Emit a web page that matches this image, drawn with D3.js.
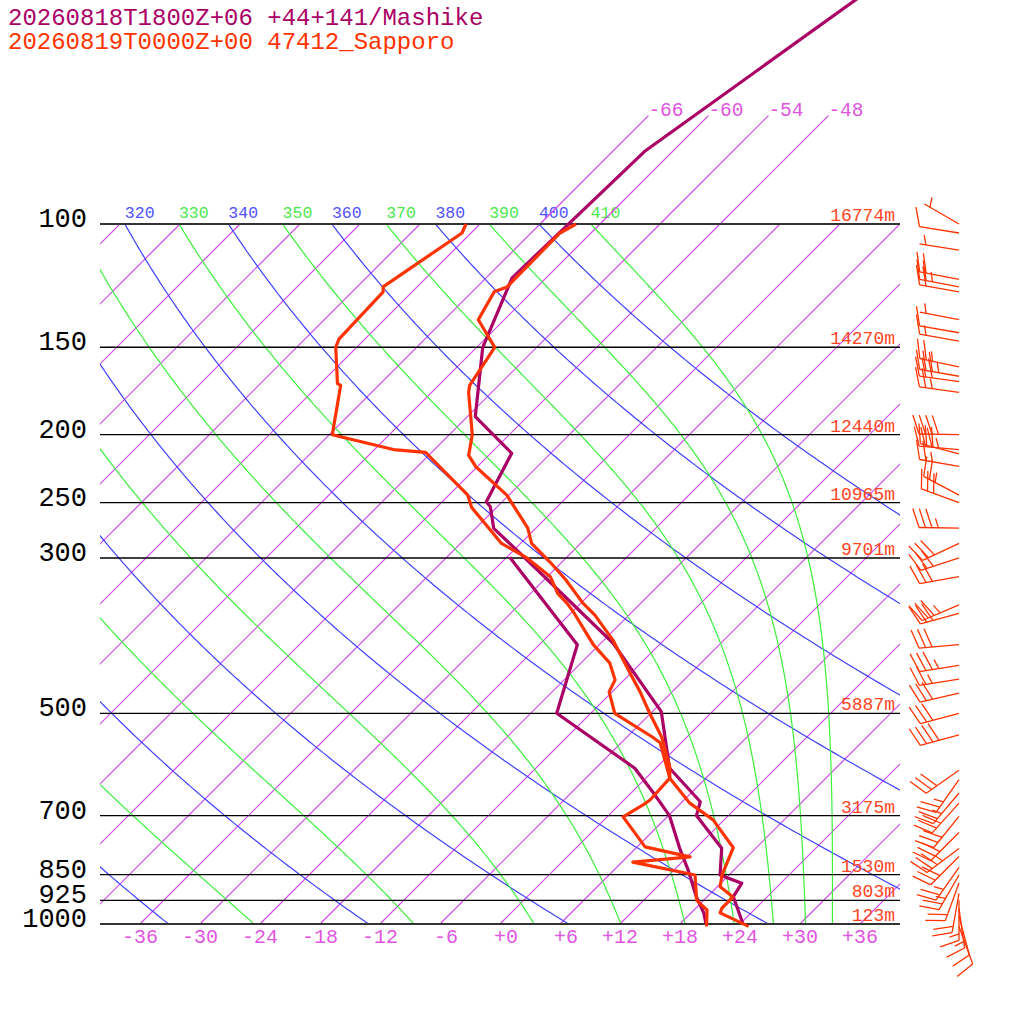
<!DOCTYPE html>
<html>
<head>
<meta charset="utf-8">
<script src="https://cdn.jsdelivr.net/npm/d3@7"></script>
<style>
body { margin: 0; background: #fff; }
text { font-family: "Liberation Mono", "DejaVu Sans Mono", monospace; }
</style>
</head>
<body>
<div id="drawArea"></div>
<script>
// ---- data ----
var titleLines = ["20260818T1800Z+06 +44+141/Mashike", "20260819T0000Z+00 47412_Sapporo"];

var pressureLevels = [100, 150, 200, 250, 300, 500, 700, 850, 925, 1000];
var heightLabels = ["16774m", "14270m", "12440m", "10965m", "9701m", "5887m", "3175m", "1530m", "803m", "123m"];
var tickTemps = [-36, -30, -24, -18, -12, -6, 0, 6, 12, 18, 24, 30, 36];
var topIsotherms = [-66, -60, -54, -48];
var dryAdiabats = [240, 260, 280, 300, 320, 340, 360, 380, 400];
var moistAdiabats = [250, 270, 290, 310, 330, 350, 370, 390, 410];

// Mashike (model)
var mashikeP  = [43.4, 78.8, 119.4, 150, 188.5, 212.6, 249.3, 253.4, 272.1, 300, 396.8, 497.4, 598.6, 668.8, 700, 779.6, 851, 874.7, 914, 1000];
var mashikeT  = [-55.7, -62.8, -63.4, -59.4, -53.2, -45.9, -43.6, -42.7, -40.2, -34.1, -16.8, -5.1, 1.35, 7.8, 8.8, 14.6, 17.1, 20.1, 20.6, 24.3];
var mashikeTdP = [299.3, 399, 500, 599, 650.5, 700, 779.6, 837, 914, 965, 1000];
var mashikeTd  = [-35.7, -20.2, -15.4, -2.1, 2.3, 6.1, 10.4, 13.4, 16.9, 19.3, 20.6];

// Sapporo (sonde)
var sapporoP = [100, 103, 123, 125, 137, 150, 170, 174, 200, 214, 222, 244, 272, 286, 304, 322, 348, 362, 393, 438, 466, 500, 541, 597, 619, 672, 710, 778, 851, 885, 915, 949, 964, 1008];
var sapporoT = [-62.4, -63.1, -63.0, -63.8, -62.6, -58.2, -56.9, -56.3, -51.7, -50.0, -48.2, -42.2, -36.8, -34.9, -31.2, -27.9, -23.8, -21.4, -17.1, -12.1, -9.2, -6.1, -2.5, 1.3, 2.4, 6.9, 10.9, 15.7, 17.3, 18.3, 20.6, 20.6, 20.9, 25.1];
var sapporoTdP = [100, 103, 123, 125, 146, 150, 169, 170, 200, 210, 212, 244, 254, 286, 300, 319, 337, 348, 358, 399, 424, 448, 466, 500, 541, 551, 619, 665, 676, 703, 776, 802, 816, 851, 925, 955, 1008];
var sapporoTd  = [-73.4, -72.9, -75.4, -74.9, -74.6, -74.1, -70.3, -69.8, -65.7, -58.1, -54.6, -46.1, -44.5, -37.9, -33.9, -29.7, -27.3, -25.4, -23.9, -18.6, -15.1, -12.9, -12.3, -9.6, -3.4, -2.1, 2.4, 2.6, 2.4, 1.6, 6.8, 12.3, 7.1, 14.6, 17.3, 19.3, 20.9];

var windP   = [100, 103, 109, 120, 123, 125, 137, 143, 147, 160, 165, 168, 174, 200, 210, 213, 222, 244, 250, 272, 286, 300, 319, 350, 360, 399, 427, 447, 468, 500, 537, 603, 622, 650, 672, 702, 740, 780, 801, 830, 851, 874, 904, 925, 950, 975, 1008];
var windDir = [300, 279, 279, 281, 281, 280, 281, 280, 280, 282, 280, 278, 278, 271, 275, 285, 280, 298, 290, 271, 245, 252, 260, 247, 255, 265, 261, 261, 257, 255, 255, 235, 215, 220, 222, 219, 225, 233, 225, 215, 210, 200, 190, 180, 172, 165, 160];
var windSpd = [5, 10, 5, 20, 25, 20, 5, 10, 15, 25, 35, 30, 25, 40, 35, 30, 25, 25, 30, 35, 30, 30, 30, 35, 30, 30, 35, 25, 30, 30, 40, 30, 25, 25, 30, 30, 30, 35, 30, 25, 25, 20, 20, 15, 15, 10, 10];

// ---- style ----
var mashikeColor = '#aa0066';
var sapporoColor = '#ff3300';
var isoStroke = '#d246ea';
var isoLabel = '#e055e0';
var dryColor = '#4040ff';
var moistColor = '#3cf03c';

var left = 100, right = 900;
var yScale = d3.scaleLog().domain([1000, 100]).range([924, 224]);
var tScale = d3.scaleLinear().domain([-40, 40]).range([left, right]);

function skewX(t, p) {
	return tScale(t) + (yScale(1000) - yScale(p));
}

function thetaESat(tk, p) {
	var es = 6.112 * Math.exp(17.67 * (tk - 273.15) / (tk - 29.65));
	if (es > p * 0.8) return 1e9;
	var r = 622 * es / (p - es);
	var th = tk * Math.pow(1000 / p, 0.2854 * (1 - 0.00028 * r));
	return th * Math.exp((3.376 / tk - 0.00254) * r * (1 + 0.00081 * r));
}

function moistT(thetaE, p) {
	var lo = 150, hi = 340;
	for (var i = 0; i < 50; i++) {
		var mid = (lo + hi) / 2;
		if (thetaESat(mid, p) > thetaE) hi = mid; else lo = mid;
	}
	return (lo + hi) / 2 - 273.15;
}

var svg = d3.select('#drawArea').append('svg')
	.attr('width', 1024)
	.attr('height', 1024);

var defs = svg.append('defs');
defs.append('clipPath').attr('id', 'plotClip')
	.append('rect')
		.attr('x', left).attr('y', yScale(100))
		.attr('width', right - left).attr('height', yScale(1000) - yScale(100));
defs.append('clipPath').attr('id', 'labelClip')
	.append('rect')
		.attr('x', left).attr('y', 0)
		.attr('width', right - left).attr('height', yScale(100));

var grid = svg.append('g').attr('clip-path', 'url(#plotClip)');

var samples = d3.range(0, 181).map(function(i) { return 1000 * Math.pow(0.1, i / 180); });
var line = d3.line().x(function(d) { return d[0]; }).y(function(d) { return d[1]; });

// isotherms
grid.selectAll('line.iso')
	.data(d3.range(-108, 37, 6))
	.enter()
	.append('line')
		.classed('iso', true)
		.attr('x1', function(t) { return skewX(t, 1000); })
		.attr('y1', yScale(1000))
		.attr('x2', function(t) { return skewX(t, 100); })
		.attr('y2', yScale(100))
		.style('stroke', isoStroke)
		.style('stroke-width', 1.2);

// dry adiabats
grid.selectAll('path.dry')
	.data(dryAdiabats)
	.enter()
	.append('path')
		.classed('dry', true)
		.attr('d', function(th) {
			return line(samples.map(function(p) {
				return [skewX(th * Math.pow(p / 1000, 0.286) - 273.15, p), yScale(p)];
			}));
		})
		.style('fill', 'none')
		.style('stroke', dryColor)
		.style('stroke-width', 1.2);

// moist adiabats
grid.selectAll('path.moist')
	.data(moistAdiabats)
	.enter()
	.append('path')
		.classed('moist', true)
		.attr('d', function(te) {
			return line(samples.map(function(p) { return [skewX(moistT(te, p), p), yScale(p)]; }));
		})
		.style('fill', 'none')
		.style('stroke', moistColor)
		.style('stroke-width', 1.2);

// adiabat labels just above 100 hPa
var thetaLabels = svg.append('g').attr('clip-path', 'url(#labelClip)');
var thetaLabelData = dryAdiabats.map(function(th) {
	return { v: th, x: skewX(th * Math.pow(0.1, 0.286) - 273.15, 100), c: '#5252ff' };
}).concat(moistAdiabats.map(function(te) {
	return { v: te, x: skewX(moistT(te, 100), 100), c: '#4ce84c' };
})).filter(function(d) { return d.x >= left - 2 && d.x < right; });
thetaLabels.selectAll('text')
	.data(thetaLabelData)
	.enter()
	.append('text')
		.attr('x', function(d) { return d.x; })
		.attr('y', yScale(100) - 6)
		.attr('font-size', 16.5)
		.attr('fill', function(d) { return d.c; })
		.text(function(d) { return d.v; });

// isotherms above 100 hPa with labels
topIsotherms.forEach(function(t) {
	svg.append('line')
		.attr('x1', skewX(t, 100)).attr('y1', yScale(100))
		.attr('x2', skewX(t, 70)).attr('y2', yScale(70))
		.style('stroke', isoStroke)
		.style('stroke-width', 1.2);
	svg.append('text')
		.attr('x', skewX(t, 70))
		.attr('y', yScale(70))
		.attr('font-size', 19.5)
		.attr('fill', isoLabel)
		.text(t);
});

// pressure lines
svg.selectAll('line.plev')
	.data(pressureLevels)
	.enter()
	.append('line')
		.classed('plev', true)
		.attr('x1', left).attr('x2', right)
		.attr('y1', function(p) { return yScale(p); })
		.attr('y2', function(p) { return yScale(p); })
		.style('stroke', function(p) { return (p == 100 || p == 1000) ? '#333' : '#000'; })
		.style('stroke-width', function(p) { return (p == 100 || p == 1000) ? 2 : 1.3; });

svg.selectAll('text.plab')
	.data(pressureLevels)
	.enter()
	.append('text')
		.classed('plab', true)
		.attr('x', 87)
		.attr('y', function(p) { return yScale(p) + 3; })
		.attr('text-anchor', 'end')
		.attr('font-size', 27)
		.attr('fill', '#000')
		.text(function(p) { return p; });

svg.selectAll('text.hlab')
	.data(heightLabels)
	.enter()
	.append('text')
		.classed('hlab', true)
		.attr('x', 895)
		.attr('y', function(d, i) { return yScale(pressureLevels[i]) - 3; })
		.attr('text-anchor', 'end')
		.attr('font-size', 18)
		.attr('fill', '#ff4422')
		.text(function(d) { return d; });

// bottom temperature ticks
svg.selectAll('text.tlab')
	.data(tickTemps)
	.enter()
	.append('text')
		.classed('tlab', true)
		.attr('x', function(t) { return skewX(t, 1000) + 18; })
		.attr('y', 943)
		.attr('text-anchor', 'end')
		.attr('font-size', 20)
		.attr('fill', isoLabel)
		.text(function(t) { return (t < 0 ? '' : '+') + t; });

// soundings
function profile(ps, ts) {
	return line(ps.map(function(p, i) { return [skewX(ts[i], p), yScale(p)]; }));
}
var traces = [
	[mashikeTdP, mashikeTd, mashikeColor],
	[mashikeP, mashikeT, mashikeColor],
	[sapporoTdP, sapporoTd, sapporoColor],
	[sapporoP, sapporoT, sapporoColor]
];
traces.forEach(function(tr) {
	svg.append('path')
		.attr('d', profile(tr[0], tr[1]))
		.style('fill', 'none')
		.style('stroke', tr[2])
		.style('stroke-width', 3.2)
		.style('stroke-linejoin', 'round');
});

// wind barbs (knots)
var barbX = 959, staffLen = 40, featherLen = 20, spacing = 6.5, featherAngle = 71 * Math.PI / 180;
var barbs = svg.append('g')
	.style('stroke', sapporoColor)
	.style('stroke-width', 1.3)
	.style('fill', sapporoColor);
windP.forEach(function(p, i) {
	var a = windDir[i] * Math.PI / 180;
	var ux = Math.sin(a), uy = -Math.cos(a);
	var bx = barbX, by = yScale(p);
	var tx = bx + ux * staffLen, ty = by + uy * staffLen;
	barbs.append('line').attr('x1', bx).attr('y1', by).attr('x2', tx).attr('y2', ty);
	var fx = ux * Math.cos(featherAngle) - uy * Math.sin(featherAngle);
	var fy = ux * Math.sin(featherAngle) + uy * Math.cos(featherAngle);
	var spd = Math.round(windSpd[i] / 5) * 5;
	var pos = 0;
	var flags = Math.floor(spd / 50); spd -= flags * 50;
	var fulls = Math.floor(spd / 10); spd -= fulls * 10;
	var halves = spd >= 5 ? 1 : 0;
	if (flags == 0 && fulls == 0 && halves) pos = spacing;
	for (var k = 0; k < flags; k++) {
		var sx = tx - ux * pos, sy = ty - uy * pos;
		barbs.append('path').attr('d', 'M' + sx + ',' + sy + 'L' + (sx + fx * featherLen) + ',' + (sy + fy * featherLen) +
			'L' + (sx - ux * spacing * 1.5) + ',' + (sy - uy * spacing * 1.5) + 'Z');
		pos += spacing * 1.8;
	}
	for (var k = 0; k < fulls; k++) {
		var sx = tx - ux * pos, sy = ty - uy * pos;
		barbs.append('line').attr('x1', sx).attr('y1', sy)
			.attr('x2', sx + fx * featherLen).attr('y2', sy + fy * featherLen);
		pos += spacing;
	}
	if (halves) {
		var sx = tx - ux * pos, sy = ty - uy * pos;
		barbs.append('line').attr('x1', sx).attr('y1', sy)
			.attr('x2', sx + fx * featherLen / 2).attr('y2', sy + fy * featherLen / 2);
	}
});

// titles
svg.selectAll('text.title')
	.data(titleLines)
	.enter()
	.append('text')
		.classed('title', true)
		.attr('x', 8)
		.attr('y', function(d, i) { return 25 + i * 24; })
		.attr('font-size', 24)
		.attr('fill', function(d, i) { return i == 0 ? mashikeColor : sapporoColor; })
		.text(function(d) { return d; });
</script>
</body>
</html>
